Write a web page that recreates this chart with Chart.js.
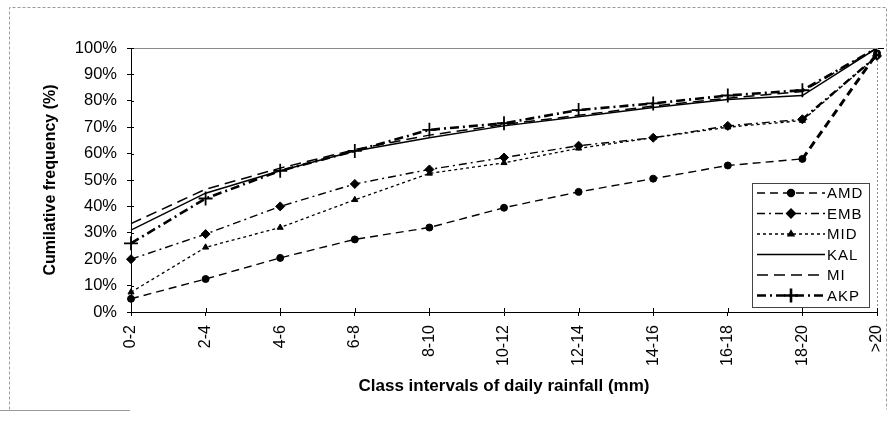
<!DOCTYPE html>
<html>
<head>
<meta charset="utf-8">
<script src="https://cdn.jsdelivr.net/npm/chart.js@4.4.1/dist/chart.umd.min.js"></script>
<style>
  html, body { margin: 0; padding: 0; background: #fff; }
  #wrap { width: 892px; height: 431px; }
</style>
</head>
<body>
<div id="wrap"><canvas id="rainChart"></canvas></div>
<script>
// class intervals on the x axis
const classLabels = ['0-2', '2-4', '4-6', '6-8', '8-10', '10-12', '12-14', '14-16', '16-18', '18-20', '>20'];

// cumulative frequency (%) per station
const dataAMD = [5, 12.5, 20.5, 27.5, 32, 39.5, 45.5, 50.5, 55.5, 58, 98];
const dataEMB = [20, 29.5, 40, 48.5, 54, 58.5, 63, 66, 70.5, 73, 97];
const dataMID = [7.5, 24.5, 32, 42.5, 52.5, 56.5, 62, 66, 70, 72.5, 97];
const dataKAL = [31, 45, 53.5, 61, 66, 70.5, 74, 77.5, 80.5, 82, 100];
const dataMI = [33.5, 46.5, 54.5, 61.5, 67, 71, 74.5, 78, 81, 83.5, 100];
const dataAKP = [26, 43, 53.5, 61, 69, 71.5, 76.5, 79, 82, 84, 100];

const fontFam = '"Liberation Sans", Arial, sans-serif';

// outer frame, plot border, crossing tick marks and the boxed legend
const framePlugin = {
    id: 'framePlugin',
    beforeDraw(chart) {
        const ctx = chart.ctx;
        ctx.save();
        ctx.strokeStyle = '#9a9a9a';
        ctx.lineWidth = 1;
        ctx.setLineDash([3, 2]);
        ctx.beginPath();
        ctx.moveTo(9.5, 409.5);
        ctx.lineTo(9.5, 7.5);
        ctx.lineTo(886.5, 7.5);
        ctx.lineTo(886.5, 409.5);
        ctx.stroke();
        ctx.setLineDash([]);
        ctx.beginPath();
        ctx.moveTo(0, 410.5);
        ctx.lineTo(130, 410.5);
        ctx.stroke();
        ctx.restore();
    },
    afterDraw(chart) {
        const ctx = chart.ctx;
        const area = chart.chartArea;
        const xs = chart.scales.x, ys = chart.scales.y;
        ctx.save();
        // top and right edge of the plot
        ctx.strokeStyle = '#8a8a8a';
        ctx.lineWidth = 1;
        ctx.beginPath();
        ctx.moveTo(area.left, area.top + 0.5);
        ctx.lineTo(area.right, area.top + 0.5);
        ctx.stroke();
        ctx.setLineDash([2, 2]);
        ctx.beginPath();
        ctx.moveTo(area.right + 0.5, area.top);
        ctx.lineTo(area.right + 0.5, area.bottom);
        ctx.stroke();
        ctx.setLineDash([]);

        // inner halves of the tick marks (ticks cross the axes)
        ctx.strokeStyle = '#000';
        ctx.beginPath();
        xs.ticks.forEach(function (t, i) {
            const px = Math.round(xs.getPixelForTick(i)) + 0.5;
            ctx.moveTo(px, area.bottom);
            ctx.lineTo(px, area.bottom - 4);
        });
        ys.ticks.forEach(function (t, i) {
            const py = Math.round(ys.getPixelForTick(i)) + 0.5;
            ctx.moveTo(area.left, py);
            ctx.lineTo(area.left + 3, py);
        });
        ctx.stroke();

        // legend box
        const bx = 752, by = 183, bw = 117, bh = 124;
        ctx.fillStyle = '#fff';
        ctx.fillRect(bx, by, bw, bh);
        ctx.strokeStyle = '#444';
        ctx.strokeRect(bx + 0.5, by + 0.5, bw, bh);

        chart.data.datasets.forEach(function (ds, i) {
            const y = by + 10 + i * 20.5;
            ctx.strokeStyle = '#000';
            ctx.fillStyle = '#000';
            ctx.lineWidth = ds.borderWidth;
            ctx.setLineDash(ds.borderDash || []);
            ctx.beginPath();
            ctx.moveTo(757, y);
            ctx.lineTo(825, y);
            ctx.stroke();
            ctx.setLineDash([]);
            if (ds.pointRadius > 0) {
                Chart.helpers.drawPoint(ctx, {
                    pointStyle: ds.pointStyle,
                    radius: ds.pointRadius,
                    rotation: 0,
                    borderWidth: ds.pointBorderWidth || 1
                }, 791, y);
            }
            ctx.fillStyle = '#000';
            ctx.font = '15px ' + fontFam;
            ctx.textBaseline = 'middle';
            ctx.textAlign = 'left';
            ctx.letterSpacing = '1px';
            ctx.fillText(ds.label, 827, y + 1);
            ctx.letterSpacing = '0px';
        });
        ctx.restore();
    }
};

// lastWidth: the scanned figure shows a heavier stroke on the last segment of some lines
function makeSet(name, values, dash, width, style, radius, lastWidth) {
    const lastIdx = values.length - 2;
    return {
        label: name,
        data: values,
        borderColor: '#000',
        backgroundColor: '#000',
        borderWidth: width,
        borderDash: dash,
        pointStyle: style,
        pointRadius: radius,
        pointHoverRadius: radius,
        pointBorderWidth: style === 'cross' ? 1.8 : 1,
        tension: 0,
        fill: false,
        segment: {
            borderWidth: function (c) {
                return (lastWidth && c.p0DataIndex === lastIdx) ? lastWidth : width;
            }
        }
    };
}

const rainChart = new Chart(document.getElementById('rainChart'), {
    type: 'line',
    data: {
        labels: classLabels,
        datasets: [
            makeSet('AMD', dataAMD, [8, 5], 1.4, 'circle', 3.5, 3),
            makeSet('EMB', dataEMB, [8, 4, 2, 4], 1.4, 'rectRot', 4.5, 2.4),
            makeSet('MID', dataMID, [3, 3], 1.3, 'triangle', 3.5),
            makeSet('KAL', dataKAL, [], 1.5, 'circle', 0),
            makeSet('MI', dataMI, [11, 6], 1.5, 'circle', 0),
            makeSet('AKP', dataAKP, [9, 4, 2, 4], 2.6, 'cross', 7)
        ]
    },
    options: {
        responsive: true,
        maintainAspectRatio: false,
        animation: false,
        devicePixelRatio: 1,
        layout: { padding: { left: 37, right: 15, top: 48, bottom: 30 } },
        plugins: {
            legend: { display: false },
            tooltip: { enabled: false }
        },
        scales: {
            x: {
                offset: false,
                grid: { display: true, drawOnChartArea: false, drawTicks: true, tickLength: 4, color: '#000' },
                border: { display: true, color: '#000', width: 1 },
                ticks: {
                    color: '#000',
                    font: { family: fontFam, size: 16 },
                    minRotation: 90,
                    maxRotation: 90,
                    padding: 9,
                    autoSkip: false
                },
                title: {
                    display: true,
                    text: 'Class intervals of daily rainfall (mm)',
                    color: '#000',
                    font: { family: fontFam, size: 17, weight: 'bold' },
                    padding: { top: 4, bottom: 4 }
                },
                afterFit(scale) {
                    scale.height = 89;
                    scale.paddingLeft = 0;
                    scale.paddingRight = 0;
                }
            },
            y: {
                min: 0,
                max: 100,
                grid: { display: true, drawOnChartArea: false, drawTicks: true, tickLength: 4, color: '#000' },
                border: { display: true, color: '#000', width: 1 },
                ticks: {
                    stepSize: 10,
                    color: '#000',
                    font: { family: fontFam, size: 16.5 },
                    padding: 10,
                    callback: function (v) { return v + '%'; }
                },
                title: {
                    display: true,
                    text: 'Cumilative frequency (%)',
                    color: '#000',
                    font: { family: fontFam, size: 16, weight: 'bold' },
                    padding: { top: 4, bottom: 4 }
                },
                afterFit(scale) {
                    scale.width = 94;
                    scale.paddingTop = 0;
                    scale.paddingBottom = 0;
                }
            }
        }
    },
    plugins: [framePlugin]
});
</script>
</body>
</html>
